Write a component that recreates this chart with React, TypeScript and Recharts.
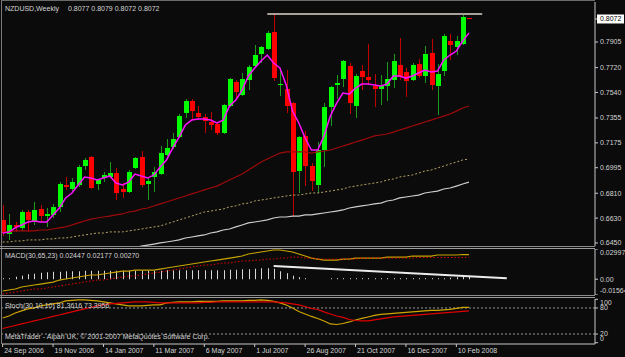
import React from "react";
import { ComposedChart, Bar, Line, XAxis, YAxis, ReferenceLine } from "recharts";

const FONT = "'Liberation Sans', Arial, sans-serif";
const TXT = "#d4d4d4";
const BG = "#0b0b0b";
const X_DOMAIN: [number, number] = [-0.1, 94];

// NZDUSD weekly bars, 24 Sep 2006 .. 24 Feb 2008
const open = [
  0.6617, 0.6515, 0.658, 0.6559, 0.6674, 0.6602, 0.6696, 0.6645, 0.6653, 0.6711,
  0.687, 0.6841, 0.687, 0.7007, 0.7073, 0.6877, 0.692, 0.6928, 0.6956, 0.6841,
  0.6819, 0.6993, 0.7073, 0.6877, 0.6928, 0.6949, 0.7087, 0.7145, 0.7217, 0.7391,
  0.7478, 0.7391, 0.7362, 0.7326, 0.7311, 0.7246, 0.7442, 0.7615, 0.7521, 0.763,
  0.7731, 0.7818, 0.7855, 0.7978, 0.7594, 0.7565, 0.7463, 0.6971, 0.7225, 0.7007,
  0.687, 0.7123, 0.7434, 0.7594, 0.7637, 0.7731, 0.7442, 0.7695, 0.7652, 0.7586,
  0.7565, 0.7586, 0.763, 0.7739, 0.7688, 0.763, 0.7746, 0.7659, 0.7826, 0.7586,
  0.7695, 0.7912, 0.7869, 0.7891, 0.8077,
];
const high = [
  0.6725, 0.666, 0.6602, 0.6689, 0.6689, 0.6747, 0.6725, 0.6703, 0.6733, 0.6891,
  0.6928, 0.692, 0.7015, 0.7065, 0.708, 0.6913, 0.6964, 0.7036, 0.6993, 0.6884,
  0.6978, 0.7073, 0.7116, 0.6928, 0.7, 0.7152, 0.7203, 0.7246, 0.7384, 0.7492,
  0.7492, 0.7442, 0.7384, 0.7398, 0.7319, 0.7456, 0.7644, 0.763, 0.7681, 0.7739,
  0.7884, 0.7877, 0.7985, 0.8108, 0.7717, 0.7702, 0.7471, 0.7225, 0.726, 0.7029,
  0.7181, 0.7463, 0.7586, 0.7666, 0.7775, 0.7753, 0.7673, 0.7739, 0.789, 0.7673,
  0.7666, 0.776, 0.7818, 0.7934, 0.7717, 0.7753, 0.7782, 0.7877, 0.7927, 0.7746,
  0.7963, 0.7963, 0.7949, 0.81, 0.8079,
];
const low = [
  0.6501, 0.6472, 0.653, 0.6537, 0.653, 0.658, 0.6602, 0.6566, 0.6631, 0.6674,
  0.6834, 0.6826, 0.6855, 0.6978, 0.6841, 0.6834, 0.6891, 0.692, 0.6761, 0.6776,
  0.6812, 0.6986, 0.6855, 0.6761, 0.6819, 0.6942, 0.708, 0.713, 0.721, 0.7355,
  0.734, 0.734, 0.7246, 0.7268, 0.7232, 0.7239, 0.7434, 0.7485, 0.7514, 0.7557,
  0.7717, 0.7753, 0.7847, 0.7623, 0.7514, 0.7391, 0.6638, 0.6812, 0.6862, 0.6826,
  0.6812, 0.7, 0.7297, 0.7492, 0.7579, 0.7384, 0.7355, 0.7557, 0.7594, 0.7434,
  0.7449, 0.7478, 0.7572, 0.763, 0.7507, 0.7623, 0.7644, 0.7608, 0.7557, 0.7376,
  0.7659, 0.7775, 0.7811, 0.7884, 0.8072,
];
const close = [
  0.6522, 0.658, 0.6566, 0.6674, 0.6617, 0.6689, 0.6645, 0.666, 0.6711, 0.6877,
  0.6855, 0.6891, 0.7, 0.7051, 0.6848, 0.6906, 0.6942, 0.6956, 0.6812, 0.6819,
  0.6964, 0.7065, 0.687, 0.6899, 0.6964, 0.7101, 0.7138, 0.7203, 0.7369, 0.7478,
  0.7405, 0.7362, 0.7333, 0.7304, 0.7246, 0.7449, 0.7637, 0.7543, 0.7637, 0.7724,
  0.7811, 0.7869, 0.797, 0.7644, 0.7601, 0.7442, 0.6964, 0.7217, 0.7007, 0.6899,
  0.7123, 0.7434, 0.7579, 0.7608, 0.7768, 0.7463, 0.7659, 0.7652, 0.763, 0.7565,
  0.7586, 0.7637, 0.7768, 0.7652, 0.7623, 0.7739, 0.7659, 0.7818, 0.7594, 0.7673,
  0.7949, 0.7884, 0.7912, 0.8086, 0.8072,
];

// moving averages
const maFast = [
  0.6522, 0.653, 0.6559, 0.658, 0.6602, 0.6609, 0.6602, 0.6602, 0.6653, 0.6703,
  0.6776, 0.6812, 0.687, 0.6928, 0.692, 0.6906, 0.692, 0.6935, 0.6884, 0.687,
  0.6891, 0.6949, 0.6935, 0.692, 0.6942, 0.7, 0.7051, 0.7138, 0.7217, 0.7304,
  0.734, 0.7347, 0.7347, 0.734, 0.7319, 0.734, 0.7442, 0.7485, 0.7557, 0.7659,
  0.7717, 0.7768, 0.7811, 0.7753, 0.7717, 0.7594, 0.7405, 0.7319, 0.721, 0.7123,
  0.7123, 0.7225, 0.7369, 0.7463, 0.7536, 0.7528, 0.7572, 0.7601, 0.7601, 0.7594,
  0.7586, 0.7601, 0.7659, 0.7659, 0.7644, 0.7659, 0.7681, 0.7702, 0.7688, 0.7695,
  0.7775, 0.7811, 0.784, 0.7912, 0.797,
];
const maMid = [
  0.6529, 0.6529, 0.6537, 0.6537, 0.6537, 0.6537, 0.6544, 0.6544, 0.6551, 0.6559,
  0.6566, 0.658, 0.6595, 0.6609, 0.6623, 0.6631, 0.6638, 0.6645, 0.6653, 0.666,
  0.6674, 0.6681, 0.6696, 0.6703, 0.6718, 0.6733, 0.6747, 0.6761, 0.6776, 0.679,
  0.6805, 0.6819, 0.6834, 0.6848, 0.6862, 0.6884, 0.6906, 0.6928, 0.6949, 0.6978,
  0.7007, 0.7036, 0.7058, 0.708, 0.7101, 0.7109, 0.7109, 0.7109, 0.7109, 0.7101,
  0.7109, 0.7116, 0.7123, 0.7138, 0.7152, 0.7166, 0.7181, 0.7195, 0.721, 0.7225,
  0.7232, 0.7239, 0.7253, 0.7268, 0.7282, 0.7297, 0.7311, 0.7326, 0.734, 0.7355,
  0.7369, 0.7384, 0.7405, 0.7427, 0.7442,
];
const maSlow = [
  0.6457, 0.6457, 0.6464, 0.6464, 0.6472, 0.6472, 0.6472, 0.6479, 0.6479, 0.6486,
  0.6486, 0.6493, 0.6501, 0.6508, 0.6515, 0.6522, 0.6522, 0.653, 0.653, 0.653,
  0.6537, 0.6544, 0.6551, 0.6559, 0.6566, 0.6573, 0.6588, 0.6602, 0.6617, 0.6631,
  0.6645, 0.666, 0.6674, 0.6681, 0.6689, 0.6696, 0.6711, 0.6718, 0.6733, 0.6739,
  0.6754, 0.6761, 0.6768, 0.6776, 0.6783, 0.679, 0.6797, 0.6797, 0.6805, 0.6812,
  0.6812, 0.6819, 0.6826, 0.6834, 0.6841, 0.6855, 0.6862, 0.687, 0.6877, 0.6884,
  0.6891, 0.6906, 0.6913, 0.6928, 0.6935, 0.6942, 0.6956, 0.6971, 0.6978, 0.6993,
  0.7007, 0.7022, 0.7036, 0.7051, 0.7058,
];
const maLong = [
  null, null, null, null, null, null, null, null, null, null,
  null, null, null, null, null, null, null, null, null, null,
  0.6399, 0.6413, 0.6428, 0.6435, 0.6442, 0.645, 0.6457, 0.6464, 0.6472, 0.6486,
  0.6493, 0.6501, 0.6508, 0.6522, 0.653, 0.6544, 0.6551, 0.6566, 0.658, 0.6595,
  0.6602, 0.6609, 0.6617, 0.6631, 0.6638, 0.6638, 0.6645, 0.6645, 0.6653, 0.6653,
  0.666, 0.6667, 0.6674, 0.6681, 0.6689, 0.6703, 0.6711, 0.6718, 0.6725, 0.6733,
  0.6739, 0.6754, 0.6761, 0.6776, 0.6783, 0.679, 0.6797, 0.6812, 0.6819, 0.6826,
  0.6841, 0.6848, 0.6862, 0.6877, 0.6891,
];

const macdMain = [
  -0.0117, -0.0107, -0.0097, -0.0077, -0.0067, -0.0057, -0.0048, -0.0038, -0.0028, -0.0008,
  0.0002, 0.0012, 0.0022, 0.0032, 0.0042, 0.0042, 0.0052, 0.0062, 0.0071, 0.0081,
  0.0081, 0.0091, 0.0091, 0.0091, 0.0091, 0.0101, 0.0111, 0.0121, 0.0131, 0.0141,
  0.0151, 0.0161, 0.0171, 0.0181, 0.019, 0.02, 0.021, 0.022, 0.023, 0.025,
  0.026, 0.027, 0.028, 0.029, 0.029, 0.028, 0.027, 0.025, 0.023, 0.021,
  0.02, 0.019, 0.019, 0.019, 0.02, 0.02, 0.021, 0.021, 0.021, 0.021,
  0.021, 0.022, 0.022, 0.022, 0.022, 0.023, 0.023, 0.023, 0.023, 0.024,
  0.024, 0.024, 0.024, 0.0245, 0.02447,
];
const macdSignal = [
  -0.0147, -0.0137, -0.0127, -0.0117, -0.0107, -0.0097, -0.0097, -0.0087, -0.0077, -0.0067,
  -0.0057, -0.0048, -0.0038, -0.0028, -0.0018, -0.0008, -0.0008, 0.0002, 0.0012, 0.0022,
  0.0032, 0.0032, 0.0042, 0.0052, 0.0062, 0.0071, 0.0081, 0.0091, 0.0101, 0.0111,
  0.0121, 0.0131, 0.0141, 0.0141, 0.0151, 0.0161, 0.0161, 0.0171, 0.0181, 0.0181,
  0.019, 0.019, 0.02, 0.02, 0.021, 0.021, 0.022, 0.022, 0.021, 0.021,
  0.02, 0.02, 0.02, 0.02, 0.02, 0.02, 0.02, 0.021, 0.021, 0.021,
  0.021, 0.021, 0.021, 0.021, 0.021, 0.021, 0.0215, 0.0215, 0.0215, 0.0215,
  0.0215, 0.0215, 0.0215, 0.0215, 0.02177,
];
const macdHist = [
  0.001, 0.001, 0.0025, 0.0035, 0.005, 0.0055, 0.0064, 0.0069, 0.0074, 0.0074,
  0.0079, 0.0079, 0.0079, 0.0084, 0.0084, 0.0084, 0.0084, 0.0084, 0.0084, 0.0084,
  0.0084, 0.0084, 0.0084, 0.0084, 0.0084, 0.0084, 0.0089, 0.0089, 0.0089, 0.0089,
  0.0089, 0.0089, 0.0089, 0.0089, 0.0089, 0.0089, 0.0094, 0.0094, 0.0099, 0.0099,
  0.0104, 0.0109, 0.0109, 0.0104, 0.0079, 0.006, 0.0035, 0.002, 0.001, 0,
  0, 0, 0.001, 0.001, 0.001, 0.001, 0.001, 0.001, 0.001, 0.001,
  0.001, 0.001, 0.001, 0.001, 0.001, 0.001, 0.001, 0.001, 0.001, 0.001,
  0.001, 0.0015, 0.002, 0.0025, 0.0027,
];

const stochMain = [
  57.0, 61.6, 68.5, 73.2, 77.8, 80.1, 84.7, 87.0, 89.3, 91.6,
  96.2, 97.4, 98.5, 98.5, 97.4, 96.2, 93.9, 91.6, 89.3, 87.0,
  84.7, 84.7, 84.7, 85.9, 87.0, 87.0, 91.6, 92.8, 93.9, 93.9,
  93.9, 95.1, 95.1, 95.1, 95.1, 96.2, 96.2, 96.2, 96.2, 97.4,
  97.4, 98.5, 97.4, 95.1, 91.6, 87.0, 80.1, 72.0, 66.2, 60.5,
  55.9, 50.1, 43.2, 42.0, 44.3, 47.8, 52.4, 55.9, 59.3, 62.8,
  65.1, 66.2, 67.4, 68.5, 69.7, 70.9, 72.0, 73.2, 74.3, 74.3,
  75.5, 76.6, 78.9, 81.2, 81.3616,
];
const stochSignal = [
  32.8, 36.2, 39.7, 43.2, 46.6, 50.1, 53.5, 57.0, 60.5, 63.9,
  67.4, 70.9, 74.3, 77.8, 81.2, 84.7, 87.0, 89.3, 90.5, 91.6,
  92.8, 93.9, 93.9, 93.9, 92.8, 91.6, 91.6, 91.6, 91.6, 91.6,
  91.6, 91.6, 92.8, 92.8, 93.9, 93.9, 93.9, 93.9, 93.9, 93.9,
  93.9, 93.9, 93.9, 93.9, 92.8, 91.6, 89.3, 87.0, 83.5, 78.9,
  76.6, 70.9, 66.2, 61.6, 58.2, 53.5, 51.2, 50.1, 50.1, 52.4,
  54.7, 57.0, 59.3, 60.5, 61.6, 62.8, 63.9, 65.1, 66.2, 67.4,
  68.5, 69.7, 70.9, 72.0, 73.3956,
];

const priceTicks = [0.8072, 0.7905, 0.772, 0.754, 0.7355, 0.7175, 0.6995, 0.681, 0.663, 0.645];
const macdTicks = [0.02997, 0, -0.01564];
const stochTicks = [100, 80, 20, 0];
const dateTicks = [0, 8, 16, 24, 32, 40, 48, 56, 64, 72];
const dateLabels = [
  "24 Sep 2006", "19 Nov 2006", "14 Jan 2007", "11 Mar 2007", "6 May 2007",
  "1 Jul 2007", "26 Aug 2007", "21 Oct 2007", "16 Dec 2007", "10 Feb 2008",
];

// trendlines drawn on the chart (bar index, value)
const topLine = [{ x: 42, y: 0.8108 }, { x: 76.1, y: 0.8108 }];
const macdLine = [{ x: 43, y: 0.0131 }, { x: 80, y: 0.001 }];

const last = close.length - 1;

const rows = open.map((o, i) => ({
  i,
  o,
  h: high[i],
  l: low[i],
  c: close[i],
  range: [low[i], high[i]],
  fast: maFast[i],
  mid: maMid[i],
  slow: maSlow[i],
  long: maLong[i],
  macd: macdMain[i],
  sig: macdSignal[i],
  hist: macdHist[i],
  k: stochMain[i],
  d: stochSignal[i],
}));

function Candle(props: any) {
  const { x, y, width, height, payload } = props;
  if (!payload) return null;
  const top = Math.min(y, y + height);
  const bot = Math.max(y, y + height);
  const span = payload.h - payload.l || 1e-9;
  const py = (v: number) => top + ((payload.h - v) / span) * (bot - top);
  const up = payload.c >= payload.o;
  const cx = Math.round(x + width / 2);
  const b1 = Math.round(py(Math.max(payload.o, payload.c)));
  const b2 = Math.round(py(Math.min(payload.o, payload.c)));
  return (
    <g>
      <rect x={cx} y={Math.round(top)} width={1} height={Math.max(1, Math.round(bot) - Math.round(top))} fill={up ? "#1c9a1c" : "#c00000"} />
      <rect x={cx - 2} y={b1} width={5} height={Math.max(1, b2 - b1)} fill={up ? "#00ff00" : "#ff0000"} />
    </g>
  );
}

function HistBar(props: any) {
  const { x, y, width, height, payload } = props;
  if (!payload || !payload.hist) return null;
  const cx = Math.round(x + width / 2);
  return <rect x={cx} y={y} width={1} height={Math.max(1, height)} fill="#d8d8d8" />;
}

function PriceTick({ x, y, payload }: any) {
  const v = payload.value;
  const cur = Math.abs(v - close[last]) < 1e-6;
  return (
    <g>
      {cur && <rect x={x - 3} y={y - 4.5} width={27} height={9} fill="#ffffff" />}
      <text x={x} y={y} dy="0.35em" fontSize={7} fontFamily={FONT} fill={cur ? "#000000" : TXT}>
        {v.toFixed(4)}
      </text>
    </g>
  );
}

function MacdTick({ x, y, payload }: any) {
  const v = payload.value;
  const shift = v === macdTicks[0] ? 4 : v === macdTicks[2] ? -4 : 0;
  return (
    <text x={x} y={y + shift} dy="0.35em" fontSize={7} fontFamily={FONT} fill={TXT}>
      {v === 0 ? "0.00" : v.toFixed(5)}
    </text>
  );
}

function StochTick({ x, y, payload }: any) {
  const v = payload.value;
  const shift = v === 100 ? 3 : v === 0 ? -4 : 0;
  return (
    <text x={x} y={y + shift} dy="0.35em" fontSize={7} fontFamily={FONT} fill={TXT}>
      {v}
    </text>
  );
}

function DateTick({ x, y, payload }: any) {
  const idx = dateTicks.indexOf(payload.value);
  return (
    <text x={x + 1.5} y={y} dy="0.71em" fontSize={7} fontFamily={FONT} fill={TXT}>
      {dateLabels[idx]}
    </text>
  );
}

const axisStroke = "#c8c8c8";

export default function App() {
  return (
    <div style={{ position: "absolute", left: 0, top: 0, width: 625, height: 357, background: BG, overflow: "hidden" }}>
      <div style={{ position: "absolute", left: 0, top: 0 }}>
        <ComposedChart width={625} height={249} data={rows} margin={{ top: 2, right: 0, bottom: 3, left: 2 }}>
          <XAxis type="number" dataKey="i" domain={X_DOMAIN} allowDataOverflow hide />
          <YAxis
            orientation="right"
            width={30}
            domain={[0.6428, 0.8195]}
            allowDataOverflow
            ticks={priceTicks}
            interval={0}
            tickSize={3}
            tickLine={{ stroke: axisStroke }}
            axisLine={{ stroke: axisStroke }}
            tick={<PriceTick />}
          />
          <Line dataKey="long" stroke="#cfcfcf" strokeWidth={1.2} dot={false} isAnimationActive={false} />
          <Line dataKey="slow" stroke="#b8a464" strokeWidth={1} strokeDasharray="2 2" dot={false} isAnimationActive={false} />
          <Line dataKey="mid" stroke="#a00a0a" strokeWidth={1.2} dot={false} isAnimationActive={false} />
          <Bar dataKey="range" barSize={5} shape={<Candle />} isAnimationActive={false} />
          <Line dataKey="fast" stroke="#ff10ff" strokeWidth={1.5} dot={false} isAnimationActive={false} />
          <ReferenceLine segment={topLine} stroke="#dcd3c6" strokeWidth={1.5} ifOverflow="visible" />
        </ComposedChart>
      </div>

      <div style={{ position: "absolute", left: 0, top: 249 }}>
        <ComposedChart width={625} height={46} data={rows} margin={{ top: 0, right: 0, bottom: 0, left: 2 }}>
          <XAxis type="number" dataKey="i" domain={X_DOMAIN} allowDataOverflow hide />
          <YAxis
            orientation="right"
            width={30}
            domain={[-0.01564, 0.02997]}
            allowDataOverflow
            ticks={macdTicks}
            interval={0}
            tickSize={3}
            tickLine={{ stroke: axisStroke }}
            axisLine={{ stroke: axisStroke }}
            tick={<MacdTick />}
          />
          <Bar dataKey="hist" barSize={1} shape={<HistBar />} isAnimationActive={false} />
          <Line dataKey="macd" stroke="#c8a400" strokeWidth={1.2} dot={false} isAnimationActive={false} />
          <Line dataKey="sig" stroke="#e00000" strokeWidth={1} strokeDasharray="1.5 2" dot={false} isAnimationActive={false} />
          <ReferenceLine segment={macdLine} stroke="#ececec" strokeWidth={2} ifOverflow="visible" />
        </ComposedChart>
      </div>

      <div style={{ position: "absolute", left: 0, top: 297 }}>
        <ComposedChart width={625} height={60} data={rows} margin={{ top: 2, right: 0, bottom: 0, left: 2 }}>
          <XAxis
            type="number"
            dataKey="i"
            domain={X_DOMAIN}
            allowDataOverflow
            ticks={dateTicks}
            interval={0}
            height={13}
            tickSize={3}
            tickMargin={1}
            tickLine={{ stroke: axisStroke }}
            axisLine={{ stroke: axisStroke }}
            tick={<DateTick />}
          />
          <YAxis
            orientation="right"
            width={30}
            domain={[-3, 100.7]}
            allowDataOverflow
            ticks={stochTicks}
            interval={0}
            tickSize={3}
            tickLine={{ stroke: axisStroke }}
            axisLine={{ stroke: axisStroke }}
            tick={<StochTick />}
          />
          <ReferenceLine y={80} stroke="#9a9a9a" strokeDasharray="2 2" />
          <ReferenceLine y={20} stroke="#9a9a9a" strokeDasharray="2 2" />
          <Line dataKey="k" stroke="#d0a400" strokeWidth={1.2} dot={false} isAnimationActive={false} />
          <Line dataKey="d" stroke="#e00000" strokeWidth={1.2} dot={false} isAnimationActive={false} />
        </ComposedChart>
      </div>

      <svg width={625} height={357} style={{ position: "absolute", left: 0, top: 0, pointerEvents: "none" }}>
        <line x1={1.5} y1={0} x2={1.5} y2={344} stroke="#7a7a7a" />
        <line x1={1.5} y1={0.5} x2={595} y2={0.5} stroke="#6a6a6a" />
        <line x1={0} y1={246.5} x2={595} y2={246.5} stroke="#8c8c8c" />
        <line x1={0} y1={248.5} x2={595} y2={248.5} stroke="#9a9a9a" />
        <line x1={0} y1={295.5} x2={595} y2={295.5} stroke="#8c8c8c" />
        <line x1={0} y1={297.5} x2={595} y2={297.5} stroke="#9a9a9a" />
        <g fontFamily={FONT} fontSize={7} fill={TXT}>
          <text x={5} y={11}>NZDUSD,Weekly</text>
          <text x={68} y={11}>
            {`${open[last].toFixed(4)} ${high[last].toFixed(4)} ${low[last].toFixed(4)} ${close[last].toFixed(4)}`}
          </text>
          <text x={5} y={258}>
            {`MACD(30,65,23) ${macdMain[last].toFixed(5)} ${macdSignal[last].toFixed(5)} ${macdHist[last].toFixed(5)}`}
          </text>
          <text x={5} y={308.3}>
            {`Stoch(30,10,10) ${stochMain[last].toFixed(4)} ${stochSignal[last].toFixed(4)}`}
          </text>
          <text x={5} y={339.3}>MetaTrader - Alpari UK, © 2001-2007 MetaQuotes Software Corp.</text>
        </g>
      </svg>
    </div>
  );
}
